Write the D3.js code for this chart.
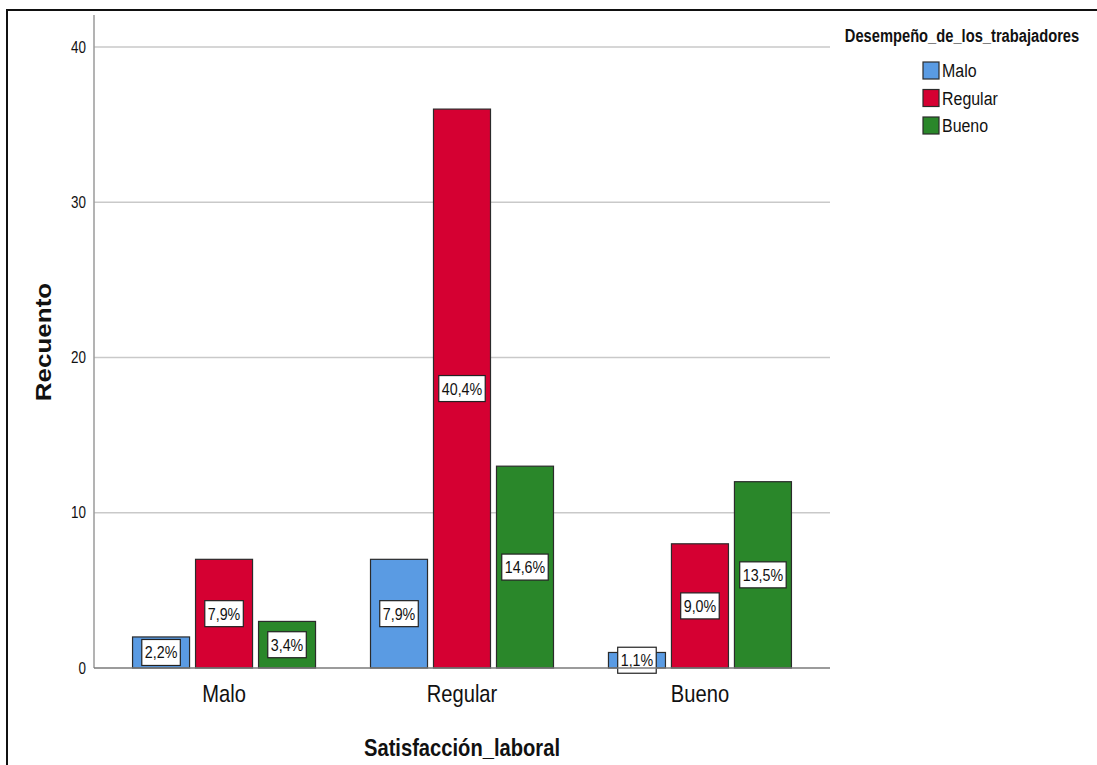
<!DOCTYPE html>
<html>
<head>
<meta charset="utf-8">
<script src="https://cdnjs.cloudflare.com/ajax/libs/d3/7.8.5/d3.min.js"></script>
<style>
  html, body { margin: 0; padding: 0; background: #fff; }
  svg { display: block; }
  text { font-family: "Liberation Sans", Arial, sans-serif; fill: #111; }
</style>
</head>
<body>
<svg id="chart" width="1097" height="765"></svg>
<script>
// Satisfacción laboral (x groups) vs. desempeño de los trabajadores (series)
const categories = ["Malo", "Regular", "Bueno"];
const seriesNames = ["Malo", "Regular", "Bueno"];
const seriesColors = ["#5a9be3", "#d50032", "#2a872a"];
// counts per satisfaction group, in series order
const valuesMalo = [2, 7, 3];
const valuesRegular = [7, 36, 13];
const valuesBueno = [1, 8, 12];
// percentage labels as printed on the bars
const pctMalo = ["2,2%", "7,9%", "3,4%"];
const pctRegular = ["7,9%", "40,4%", "14,6%"];
const pctBueno = ["1,1%", "9,0%", "13,5%"];
const yTicks = [0, 10, 20, 30, 40];

const groupValues = [valuesMalo, valuesRegular, valuesBueno];
const groupPcts = [pctMalo, pctRegular, pctBueno];

// horizontal condensing applied to all text (narrow face look)
const K = 0.84;

const svg = d3.select("#chart");

// outer frame
svg.append("rect")
  .attr("x", 7).attr("y", 10).attr("width", 1200).attr("height", 900)
  .attr("fill", "none").attr("stroke", "#111").attr("stroke-width", 2);

const plot = { left: 94, right: 830, top: 15, bottom: 668 };

const y = d3.scaleLinear().domain([0, 40]).range([plot.bottom, 47]);

const x0 = d3.scaleBand().domain(categories)
  .range([plot.left, plot.right])
  .paddingInner(0.231).paddingOuter(0.162);
const x1 = d3.scaleBand().domain(seriesNames)
  .range([0, x0.bandwidth()])
  .paddingInner(0.095);
const color = d3.scaleOrdinal().domain(seriesNames).range(seriesColors);

// condensed text placed at (x, y)
function ctext(parent, x, yy, str, size, anchor, bold) {
  return parent.append("text")
    .attr("transform", `translate(${x},${yy}) scale(${K},1)`)
    .attr("text-anchor", anchor || "start")
    .attr("font-size", size)
    .attr("font-weight", bold ? "bold" : "normal")
    .text(str);
}

// gridlines
svg.append("g").selectAll("line")
  .data(yTicks.filter(t => t > 0))
  .join("line")
  .attr("x1", plot.left).attr("x2", plot.right)
  .attr("y1", d => y(d)).attr("y2", d => y(d))
  .attr("stroke", "#c9c9c9").attr("stroke-width", 1.5);

// y axis
const yAxis = svg.append("g")
  .attr("transform", `translate(${plot.left},0)`)
  .call(d3.axisLeft(y).tickValues(yTicks).tickSize(0).tickPadding(8));
yAxis.select(".domain").remove();
yAxis.selectAll(".tick text")
  .attr("font-size", 16).attr("fill", "#111")
  .attr("font-family", "Liberation Sans, Arial, sans-serif")
  .attr("transform", `translate(-8,0) scale(${K},1) translate(8,0)`);
svg.append("line")
  .attr("x1", plot.left).attr("x2", plot.left)
  .attr("y1", plot.top).attr("y2", plot.bottom)
  .attr("stroke", "#9a9a9a").attr("stroke-width", 1.5);

// bars
const groups = svg.append("g").selectAll("g")
  .data(categories.map((c, i) => ({ cat: c, vals: groupValues[i], pcts: groupPcts[i] })))
  .join("g")
  .attr("transform", d => `translate(${x0(d.cat)},0)`);

groups.selectAll("rect")
  .data(d => seriesNames.map((s, j) => ({ s, v: d.vals[j] })))
  .join("rect")
  .attr("x", d => x1(d.s))
  .attr("y", d => y(d.v))
  .attr("width", x1.bandwidth())
  .attr("height", d => y(0) - y(d.v))
  .attr("fill", d => color(d.s))
  .attr("stroke", "#2b2b2b").attr("stroke-width", 1.2);

// baseline
svg.append("line")
  .attr("x1", plot.left).attr("x2", plot.right)
  .attr("y1", y(0)).attr("y2", y(0))
  .attr("stroke", "#7a7a7a").attr("stroke-width", 1.5);

// percentage labels, boxed, centred on each bar
const labels = groups.selectAll("g.lbl")
  .data(d => seriesNames.map((s, j) => ({ s, v: d.vals[j], p: d.pcts[j] })))
  .join("g").attr("class", "lbl")
  .attr("transform", d => `translate(${x1(d.s) + x1.bandwidth() / 2},${(y(d.v) + y(0)) / 2})`);
labels.each(function (d) {
  const g = d3.select(this);
  const t = ctext(g, 0, 6, d.p, 17, "middle");
  const w = t.node().getComputedTextLength() * K + 6;
  g.insert("rect", "text")
    .attr("x", -w / 2).attr("y", -13).attr("width", w).attr("height", 26)
    .attr("fill", "#fff").attr("stroke", "#222").attr("stroke-width", 1.2);
});

// category labels
categories.forEach(c => {
  ctext(svg, x0(c) + x0.bandwidth() / 2, 702, c, 24, "middle");
});

// axis titles
ctext(svg, 462, 756, "Satisfacción_laboral", 24, "middle", true);

svg.append("text")
  .attr("transform", "translate(51,342) scale(0.85,1) rotate(-90)")
  .attr("text-anchor", "middle")
  .attr("font-size", 26).attr("font-weight", "bold")
  .text("Recuento");

// legend
const legend = svg.append("g");
ctext(legend, 962, 42, "Desempeño_de_los_trabajadores", 17.5, "middle", true);
const items = legend.selectAll("g.item")
  .data(seriesNames).join("g").attr("class", "item")
  .attr("transform", (d, i) => `translate(923,${62 + i * 27.5})`);
items.append("rect")
  .attr("width", 16).attr("height", 17)
  .attr("fill", d => color(d))
  .attr("stroke", "#2b2b2b").attr("stroke-width", 1.2);
items.each(function (d) {
  ctext(d3.select(this), 19, 15, d, 19, "start");
});
</script>
</body>
</html>
